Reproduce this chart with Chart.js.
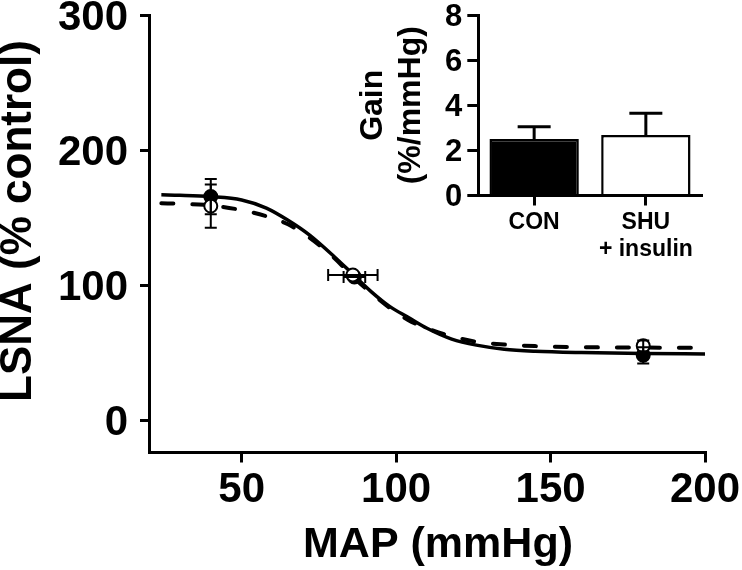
<!DOCTYPE html>
<html>
<head>
<meta charset="utf-8">
<script src="https://cdn.jsdelivr.net/npm/chart.js@4.4.1/dist/chart.umd.min.js"></script>
<style>
  html, body { margin: 0; padding: 0; background: #fff; }
  #wrap { position: relative; width: 742px; height: 570px; }
  #mainChart { position: absolute; left: 0; top: 0; }
  #gainChart { position: absolute; left: 340px; top: 0; }
</style>
</head>
<body>
<div id="wrap">
  <canvas id="mainChart" width="742" height="570"></canvas>
  <canvas id="gainChart" width="402" height="280"></canvas>
</div>
<script>
// main panel: baroreflex curves (LSNA vs MAP)
const xTitle = 'MAP (mmHg)';
const yTitle = 'LSNA (% control)';
const xTicks = [50, 100, 150, 200];
const yTicks = [0, 100, 200, 300];

// fitted curves
const curveMap = [24, 30, 40, 50, 58, 65, 72, 80, 86, 92, 98, 104, 110, 118, 126, 135, 145, 160, 180, 200];
const conCurve = [166.8, 166.5, 165.5, 163, 157, 148, 137, 121, 108, 95, 84, 76, 68, 60, 55.5, 52.5, 51, 50, 49.3, 49];
const shuCurve = [160.5, 160.2, 159, 155.5, 151, 145, 135, 120, 106, 94, 83, 74, 68, 62, 58, 56, 54.8, 54, 53.7, 53.6];

// group means +/- SEM
const conMap = [40, 86.5, 180];
const conLsna = [165.5, 106, 48];
const conLsnaErr = [13, 0, 6];
const conMapErr = [0, 3.5, 0];
const shuMap = [40, 86, 180];
const shuLsna = [158.5, 107.5, 55];
const shuLsnaErr = [16, 0, 4];
const shuMapErr = [0, 8, 0];

// inset: gain
const gainTitle = ['Gain', '(%/mmHg)'];
const gainLabels = ['CON', ['SHU', '+ insulin']];
const gainValues = [2.5, 2.68];
const gainErr = [0.55, 0.97];
const gainTicks = [0, 2, 4, 6, 8];

const FONT = '"Liberation Sans", Arial, sans-serif';
Chart.defaults.font.family = FONT;
Chart.defaults.font.weight = 'bold';
Chart.defaults.color = '#000';

const toPoints = (xs, ys) => xs.map((v, i) => ({ x: v, y: ys[i] }));

function fixBox(size, horizontal) {
  return function (scale) {
    if (horizontal) scale.height = size; else scale.width = size;
    scale.paddingTop = 0; scale.paddingBottom = 0;
    scale.paddingLeft = 0; scale.paddingRight = 0;
  };
}
const keepTicks = values => scale => {
  scale.ticks = values.map(v => ({ value: v }));
};

const mainTitles = {
  id: 'mainTitles',
  afterDraw(chart) {
    const ctx = chart.ctx;
    ctx.save();
    ctx.fillStyle = '#000';
    ctx.textAlign = 'center';
    ctx.textBaseline = 'middle';
    ctx.font = 'bold 43px ' + FONT;
    ctx.fillText(xTitle, 438, 545);
    ctx.translate(19, 221);
    ctx.rotate(-Math.PI / 2);
    ctx.font = 'bold 44px ' + FONT;
    ctx.fillText(yTitle, 0, 0);
    ctx.restore();
  }
};

const errorBars = {
  id: 'errorBars',
  afterDatasetsDraw(chart) {
    const { ctx, scales: { x, y } } = chart;
    const groups = [
      { map: conMap, lsna: conLsna, ey: conLsnaErr, ex: conMapErr },
      { map: shuMap, lsna: shuLsna, ey: shuLsnaErr, ex: shuMapErr }
    ];
    const cap = 6;
    ctx.save();
    ctx.strokeStyle = '#000';
    ctx.lineWidth = 2;
    groups.forEach(g => {
      g.map.forEach((mx, i) => {
        const px = x.getPixelForValue(mx);
        const py = y.getPixelForValue(g.lsna[i]);
        ctx.beginPath();
        if (g.ey[i]) {
          const top = y.getPixelForValue(g.lsna[i] + g.ey[i]);
          const bot = y.getPixelForValue(g.lsna[i] - g.ey[i]);
          ctx.moveTo(px, top); ctx.lineTo(px, bot);
          ctx.moveTo(px - cap, top); ctx.lineTo(px + cap, top);
          ctx.moveTo(px - cap, bot); ctx.lineTo(px + cap, bot);
        }
        if (g.ex[i]) {
          const lo = x.getPixelForValue(mx - g.ex[i]);
          const hi = x.getPixelForValue(mx + g.ex[i]);
          ctx.moveTo(lo, py); ctx.lineTo(hi, py);
          ctx.moveTo(lo, py - cap); ctx.lineTo(lo, py + cap);
          ctx.moveTo(hi, py - cap); ctx.lineTo(hi, py + cap);
        }
        ctx.stroke();
      });
    });
    ctx.restore();
  }
};

new Chart(document.getElementById('mainChart'), {
  type: 'scatter',
  data: {
    datasets: [
      {
        label: 'SHU + insulin',
        data: toPoints(shuMap, shuLsna),
        pointRadius: 6.5,
        pointBackgroundColor: '#fff',
        pointBorderColor: '#000',
        pointBorderWidth: 2,
        order: 0
      },
      {
        label: 'CON',
        data: toPoints(conMap, conLsna),
        pointRadius: 6.5,
        pointBackgroundColor: '#000',
        pointBorderColor: '#000',
        pointBorderWidth: 2,
        order: 1
      },
      {
        label: 'SHU fit',
        data: toPoints(curveMap, shuCurve),
        showLine: true,
        pointRadius: 0,
        borderColor: '#000',
        borderWidth: 4,
        borderDash: [12, 19],
        borderCapStyle: 'round',
        cubicInterpolationMode: 'monotone',
        order: 2
      },
      {
        label: 'CON fit',
        data: toPoints(curveMap, conCurve),
        showLine: true,
        pointRadius: 0,
        borderColor: '#000',
        borderWidth: 3.5,
        cubicInterpolationMode: 'monotone',
        order: 3
      }
    ]
  },
  options: {
    responsive: false,
    animation: false,
    devicePixelRatio: 1,
    layout: { padding: { top: 15, right: 37, bottom: 0, left: 0 } },
    plugins: { legend: { display: false }, tooltip: { enabled: false } },
    scales: {
      x: {
        type: 'linear',
        min: 20,
        max: 200,
        afterBuildTicks: keepTicks(xTicks),
        afterFit: fixBox(117.5, true),
        border: { color: '#000', width: 3 },
        grid: { drawOnChartArea: false, color: '#000', lineWidth: 3, tickLength: 10 },
        ticks: { font: { size: 42, weight: 'bold' }, padding: 3, color: '#000' }
      },
      y: {
        min: -24,
        max: 300,
        afterBuildTicks: keepTicks(yTicks),
        afterFit: fixBox(149, false),
        border: { color: '#000', width: 3 },
        grid: { drawOnChartArea: false, color: '#000', lineWidth: 3, tickLength: 9 },
        ticks: { font: { size: 42, weight: 'bold' }, padding: 12, labelOffset: 3, color: '#000' }
      }
    }
  },
  plugins: [errorBars, mainTitles]
});

const gainErrorBars = {
  id: 'gainErrorBars',
  afterDatasetsDraw(chart) {
    const { ctx, scales: { x, y } } = chart;
    const cap = 16.5;
    ctx.save();
    ctx.strokeStyle = '#000';
    ctx.lineWidth = 3;
    gainValues.forEach((v, i) => {
      const px = x.getPixelForValue(i);
      const base = y.getPixelForValue(v);
      const top = y.getPixelForValue(v + gainErr[i]);
      ctx.beginPath();
      ctx.moveTo(px, base); ctx.lineTo(px, top);
      ctx.moveTo(px - cap, top); ctx.lineTo(px + cap, top);
      ctx.stroke();
    });
    ctx.restore();
  }
};

new Chart(document.getElementById('gainChart'), {
  type: 'bar',
  data: {
    labels: gainLabels,
    datasets: [{
      data: gainValues,
      backgroundColor: ['#000', '#fff'],
      borderColor: '#000',
      borderWidth: 2.5,
      barPercentage: 0.8,
      categoryPercentage: 1
    }]
  },
  options: {
    responsive: false,
    animation: false,
    devicePixelRatio: 1,
    layout: { padding: { top: 15, right: 40.3, bottom: 0, left: 0 } },
    plugins: { legend: { display: false }, tooltip: { enabled: false } },
    scales: {
      x: {
        afterFit: fixBox(84.5, true),
        border: { color: '#000', width: 3 },
        grid: { drawOnChartArea: false, offset: false, color: '#000', lineWidth: 3, tickLength: 10 },
        ticks: { font: { size: 23, weight: 'bold' }, padding: 3, color: '#000' }
      },
      y: {
        min: 0,
        max: 8,
        afterBuildTicks: keepTicks(gainTicks),
        afterFit: fixBox(138.3, false),
        border: { color: '#000', width: 3 },
        grid: { drawOnChartArea: false, color: '#000', lineWidth: 3, tickLength: 11 },
        ticks: { font: { size: 31, weight: 'bold' }, padding: 5, labelOffset: 2, color: '#000' },
        title: {
          display: true,
          text: gainTitle,
          font: { size: 32, weight: 'bold' },
          color: '#000',
          padding: { top: 14, bottom: 0 }
        }
      }
    }
  },
  plugins: [gainErrorBars]
});
</script>
</body>
</html>
